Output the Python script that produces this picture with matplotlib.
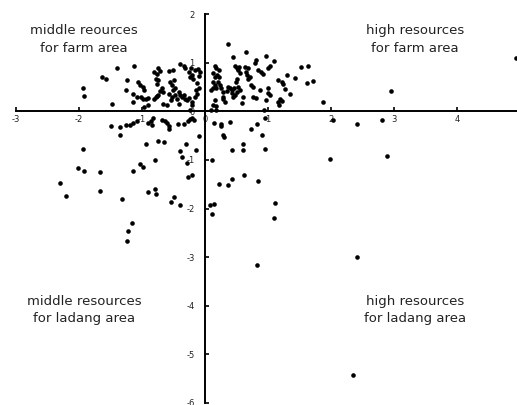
import matplotlib
matplotlib.use("Agg")
import matplotlib.pyplot as plt

# scores, grouped by quadrant
ul_x = [-1.94, -1.92, -1.64, -1.57, -1.39, -1.47, -1.13, -1.24, -1.25, -1.15, -1.15,
        -1.06, -1.03, -0.99, -0.97, -1.08, -1.02, -0.98, -0.94, -0.90, -0.90, -0.97,
        -0.81, -0.78, -0.74, -0.72, -0.77, -0.81, -0.78, -0.74, -0.77, -0.69, -0.71, -0.67, -0.74, -0.77, -0.66,
        -0.57, -0.51, -0.56, -0.50, -0.53, -0.48, -0.51, -0.57, -0.53, -0.48, -0.45, -0.54,
        -0.42, -0.40, -0.37, -0.34, -0.32, -0.29, -0.25, -0.21, -0.16, -0.13, -0.09,
        -0.39, -0.34, -0.32, -0.26, -0.23, -0.20, -0.24, -0.19, -0.16, -0.11,
        -0.08, -0.10, -0.13, -0.15, -0.20, -0.24, -0.60, -0.42]
ul_y = [0.47, 0.31, 0.70, 0.67, 0.88, 0.14, 0.94, 0.64, 0.43, 0.36, 0.19,
        0.60, 0.55, 0.50, 0.43, 0.29, 0.29, 0.26, 0.26, 0.27, 0.12, 0.09,
        0.26, 0.29, 0.88, 0.82, 0.77, 0.81, 0.67, 0.64, 0.57, 0.47, 0.41, 0.40, 0.34, 0.31, 0.14,
        0.82, 0.84, 0.60, 0.64, 0.53, 0.48, 0.43, 0.36, 0.29, 0.33, 0.26, 0.23,
        0.40, 0.34, 0.29, 0.33, 0.26, 0.23, 0.27, 0.19, 0.29, 0.36, 0.48,
        0.98, 0.94, 0.88, 0.81, 0.89, 0.75, 0.70, 0.67, 0.84, 0.86,
        0.80, 0.72, 0.58, 0.44, 0.12, 0.03, 0.12, 0.15]

ur_x = [0.37, 0.44, 0.65, 0.81, 0.80, 0.96, 1.09, 1.03, 1.00,
        0.15, 0.18, 0.22, 0.13, 0.19, 0.15, 0.22,
        0.12, 0.15, 0.13, 0.17, 0.10, 0.21, 0.23,
        0.26, 0.29, 0.28, 0.37, 0.39, 0.35, 0.43, 0.42, 0.46,
        0.47, 0.50, 0.54, 0.52, 0.56,
        0.50, 0.49, 0.52, 0.55, 0.50, 0.47, 0.44, 0.60, 0.58,
        0.63, 0.68, 0.65, 0.66, 0.71, 0.68, 0.73, 0.76, 0.76, 0.81,
        0.84, 0.89, 0.92, 0.87, 1.00, 1.00, 1.03, 0.97, 0.94,
        1.16, 1.17, 0.15, 0.13, 0.17, 0.10, 0.18, 0.29, 0.31,
        1.15, 1.22, 1.30, 1.43, 1.27, 1.35, 1.19, 1.22, 1.23,
        1.52, 1.63, 1.61, 1.72, 1.87, 2.95, 4.94]
ur_y = [1.39, 1.11, 1.21, 1.05, 1.00, 1.14, 1.03, 0.94, 0.88,
        0.94, 0.88, 0.84, 0.79, 0.75, 0.70, 0.70,
        0.60, 0.55, 0.47, 0.47, 0.43, 0.60, 0.53,
        0.47, 0.40, 0.29, 0.50, 0.47, 0.41, 0.43, 0.38, 0.47,
        0.94, 0.89, 0.91, 0.84, 0.79,
        0.67, 0.60, 0.50, 0.43, 0.40, 0.33, 0.29, 0.29, 0.16,
        0.91, 0.88, 0.81, 0.74, 0.70, 0.67, 0.53, 0.50, 0.29, 0.27,
        0.84, 0.81, 0.77, 0.43, 0.47, 0.38, 0.33, 0.23, 0.02,
        0.19, 0.12, 0.23, 0.12, 0.11, 0.02, 0.02, 0.26, 0.19,
        0.64, 0.60, 0.74, 0.69, 0.45, 0.35, 0.26, 0.21, 0.57,
        0.92, 0.94, 0.59, 0.62, 0.18, 0.41, 1.10]

lr_x = [2.03, 2.41, 2.80, 2.88, 1.98, 0.95, 0.90, 0.95, 0.82, 0.73, 0.61, 0.61, 0.42,
        0.14, 0.26, 0.25, 0.39, 0.29, 0.30, 0.11, 0.62, 0.42, 0.22, 0.36, 0.84,
        0.08, 0.14, 0.11, 1.11, 1.10, 0.82, 2.41, 2.35]
lr_y = [-0.18, -0.27, -0.18, -0.92, -0.99, -0.13, -0.48, -0.78, -0.27, -0.36, -0.68, -0.80, -0.80,
        -0.25, -0.27, -0.31, -0.22, -0.48, -0.53, -1.00, -1.31, -1.40, -1.49, -1.51, -1.44,
        -1.93, -1.91, -2.12, -1.88, -2.20, -3.16, -3.00, -5.42]

ll_x = [-1.49, -1.35, -1.26, -1.19, -1.14, -1.08, -1.35,
        -0.90, -0.86, -0.82, -0.84, -0.68, -0.63, -0.61, -0.57, -0.57,
        -0.43, -0.33, -0.27, -0.24, -0.21, -0.17, -0.10,
        -0.93, -0.75, -0.65, -0.31, -0.40, -0.15, -0.36, -0.29,
        -0.80, -1.14, -1.03, -0.99, -0.27, -0.21,
        -0.91, -0.80, -0.78, -0.49, -0.54, -0.40,
        -1.94, -2.01, -1.92, -1.67, -2.30, -2.20, -1.67, -1.32,
        -1.16, -1.22, -1.24]
ll_y = [-0.31, -0.32, -0.29, -0.28, -0.25, -0.20, -0.49,
        -0.25, -0.20, -0.14, -0.28, -0.18, -0.21, -0.25, -0.31, -0.36,
        -0.27, -0.27, -0.21, -0.16, -0.13, -0.18, -0.50,
        -0.68, -0.62, -0.64, -0.68, -0.82, -0.79, -0.95, -1.07,
        -1.01, -1.22, -1.09, -1.14, -1.36, -1.31,
        -1.66, -1.60, -1.70, -1.77, -1.87, -1.92,
        -0.78, -1.17, -1.23, -1.25, -1.48, -1.75, -1.64, -1.80,
        -2.29, -2.46, -2.67]

quad_labels = ["middle reources\nfor farm area", "high resources\nfor farm area",
               "middle resources\nfor ladang area", "high resources\nfor ladang area"]
quad_pos = [(-1.92, 1.48), (3.33, 1.48), (-1.92, -4.09), (3.33, -4.09)]

x_ticks = [-3, -2, -1, 0, 1, 2, 3, 4]
y_ticks = [-6, -5, -4, -3, -2, -1, 0, 1, 2]

fig = plt.figure(figsize=(5.17, 4.05), dpi=100)
ax = fig.add_axes([16 / 517, 2 / 405, 501 / 517, 389 / 405])

for xs, ys in [(ul_x, ul_y), (ur_x, ur_y), (lr_x, lr_y), (ll_x, ll_y)]:
    ax.plot(xs, ys, "o", color="black", markersize=3.3, markeredgewidth=0, clip_on=False)

ax.set_xlim(-3, 4.95)
ax.set_ylim(-6, 2)
ax.spines["left"].set_position(("data", 0))
ax.spines["bottom"].set_position(("data", 0))
ax.spines["top"].set_visible(False)
ax.spines["right"].set_visible(False)
ax.spines["left"].set_linewidth(1.4)
ax.spines["bottom"].set_linewidth(1.4)

ax.set_xticks(x_ticks)
ax.set_yticks(y_ticks)
ax.set_xticklabels([str(t) for t in x_ticks])
ax.set_yticklabels([str(t) for t in y_ticks])
ax.tick_params(axis="x", direction="in", length=3, width=1.2, pad=2.5, labelsize=6, colors="black")
ax.tick_params(axis="y", direction="in", length=3, width=1.2, pad=7.5, labelsize=6, colors="black")
for lab in ax.get_xticklabels() + ax.get_yticklabels():
    lab.set_color("#222222")

for txt, (tx, ty) in zip(quad_labels, quad_pos):
    ax.text(tx, ty, txt, ha="center", va="center", multialignment="center",
            fontsize=9.5, linespacing=1.45, color="#222222")

fig.savefig("out.png", dpi=100)
